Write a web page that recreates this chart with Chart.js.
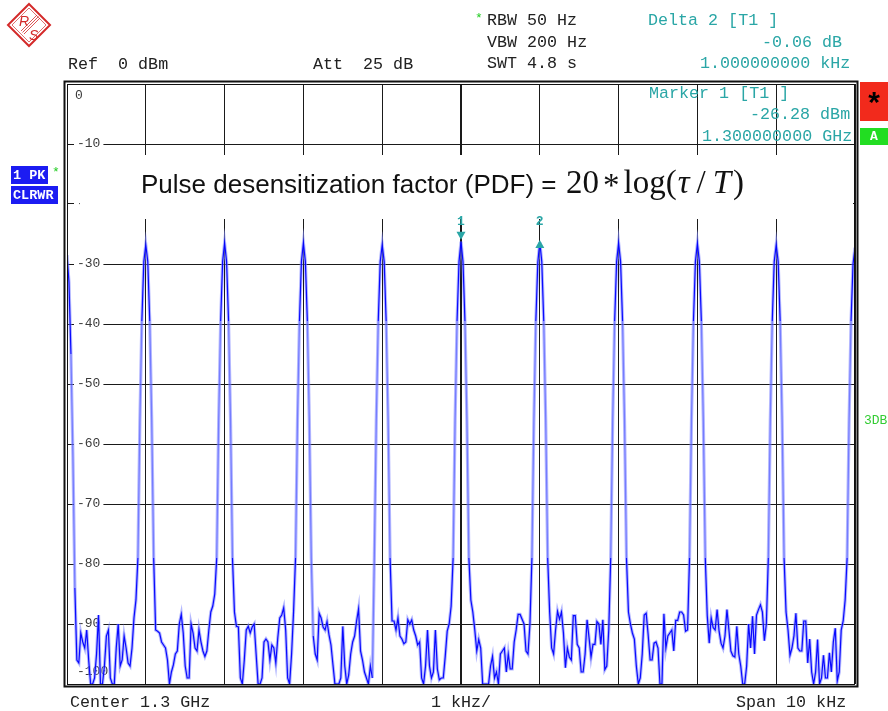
<!DOCTYPE html>
<html>
<head>
<meta charset="utf-8">
<style>
  html, body { margin: 0; padding: 0; background: #fff; overflow: hidden; }
  #wrap { position: relative; width: 888px; height: 711px; }
  canvas { display: block; }
  #logo { position: absolute; left: 0; top: 0; }
</style>
<script src="https://cdn.jsdelivr.net/npm/chart.js@4.4.1/dist/chart.umd.min.js"></script>
</head>
<body>
<div id="wrap">
  <canvas id="chart" width="888" height="711"></canvas>
  <svg id="logo" width="60" height="52" viewBox="0 0 60 52">
    <polygon points="29,4 50,25 29,46 8,25" fill="none" stroke="#d42a2a" stroke-width="2"/>
    <polygon points="29,8 46,25 29,42 12,25" fill="none" stroke="#e07070" stroke-width="1"/>
    <g stroke="#d42a2a" stroke-width="0.8">
      <line x1="21" y1="31" x2="37" y2="15"/><line x1="22.5" y1="32.5" x2="38.5" y2="16.5"/>
      <line x1="24" y1="34" x2="40" y2="18"/>
    </g>
    <text x="19" y="26" font-family="Liberation Sans, Arial" font-size="14" fill="#d42a2a" font-style="italic">R</text>
    <text x="29" y="40" font-family="Liberation Sans, Arial" font-size="14" fill="#d42a2a" font-style="italic">S</text>
  </svg>
</div>
<script>
// sweep: center 1.3 GHz, span 10 kHz, one trace point every 25 Hz
const startHz = -5000;
const stepHz = 25;

// trace level in dBm, one array per 1 kHz division (first value = comb line)
const div0 = [-28.5, -33, -45, -62, -84, -96, -96.5, -91.5, -93, -94, -91, -96, -100, -100, -99, -95, -88.5, -100, -100, -97,
              -92, -91, -99, -100, -100, -94, -90, -97, -96, -92, -94, -96.5, -97, -94, -89, -86, -79, -56, -39.5, -29.6];
const div1 = [-26.8, -29.6, -39.5, -56, -79, -91, -91.2, -91.5, -93, -93.5, -94, -96, -100, -98, -96.8, -95, -94.5, -90, -88.4, -91.5,
              -97, -99, -99, -90, -91.5, -94, -94.5, -91, -93, -94.5, -95.4, -94.5, -91, -88, -87, -85, -79, -56, -39.5, -29.6];
const div2 = [-26.5, -29.6, -39.5, -56, -79, -88, -90.4, -90.5, -99, -100, -96, -91, -90.4, -91.5, -90.5, -90, -95, -100, -100, -99,
              -93, -92.5, -93, -96, -93.5, -94, -96.5, -92.3, -89, -88.5, -87.3, -91, -99, -100, -95, -88, -79, -56, -39.5, -29.6];
const div3 = [-26.5, -29.6, -39.5, -56, -79, -92, -95, -96, -88.2, -89, -90.5, -91, -89.6, -91.8, -93.5, -96.8, -100, -100, -100, -99,
              -90.4, -97, -100, -98.5, -95, -93, -92, -89.5, -87.5, -94.5, -96, -98, -99, -100, -97, -99, -79, -56, -39.5, -29.6];
const div4 = [-26.8, -29.6, -39.5, -56, -79, -89.5, -89.5, -91, -89, -92, -92.5, -93.3, -93, -89.3, -90, -89.3, -91, -92, -93.5, -93,
              -99, -100, -97, -91, -97, -99, -98, -91, -97.5, -99.3, -99, -99, -95.4, -91.2, -90, -87, -79, -56, -39.5, -29.6];
const div5 = [-26.28, -29.6, -39.5, -56, -79, -86, -88, -91, -94.5, -92.6, -94, -100, -100, -100, -100, -97, -95.4, -99, -98, -100,
              -95, -94.5, -94, -98, -95, -97.5, -97.5, -93, -91, -88.4, -88.4, -89.2, -90, -94.5, -95, -90, -79, -56, -39.5, -29.7];
const div6 = [-26.34, -29.6, -39.5, -56, -79, -88, -94, -95, -91, -87.9, -89.2, -88, -91.5, -97.3, -94, -95.5, -96, -88.6, -88.6, -93.4,
              -94, -98, -98, -95, -89.3, -92.3, -95.5, -93.4, -93.4, -89.6, -90, -93.4, -89.3, -97.6, -97, -91, -79, -56, -39.5, -29.6];
const div7 = [-26.5, -29.6, -39.5, -56, -79, -88, -90, -91.5, -92.5, -97, -100, -99, -95, -88.5, -88.2, -91.8, -96, -96, -93.2, -93,
              -94, -100, -100, -88.3, -94, -92, -91.5, -91, -94.5, -89.4, -89.4, -88, -88, -88.5, -91.2, -91, -79, -56, -39.5, -29.6];
const div8 = [-26.6, -29.6, -39.5, -56, -79, -88.6, -93.2, -89, -90.6, -91, -87.6, -91.2, -93.2, -94, -92, -87.6, -91, -94.5, -95.3, -95.5,
              -90.4, -95, -97, -100, -100, -97, -90, -94, -88.7, -95, -88.5, -87.6, -86.8, -88, -92.8, -90, -79, -56, -39.5, -29.6];
const div9 = [-26.8, -29.6, -39.5, -56, -79, -88, -91, -95.2, -94, -92, -88.2, -94, -94.5, -94.5, -89.5, -89.5, -96.5, -92.5, -98, -100,
              -98, -92.6, -100, -99, -95.2, -99, -99, -94.8, -98, -93, -90.7, -99.5, -98, -91, -89.5, -86, -79, -56, -39.5, -30];
const lastLine = [-27.3];

const yTickValues = [0, -10, -20, -30, -40, -50, -60, -70, -80, -90, -100];
const yTickLabels = ['0', '-10', '-20', '-30', '-40', '-50', '-60', '-70', '-80', '-90', '-100'];

const markerNames = ['1', '2'];
const markerFreqs = [0, 1000];
const markerLevels = [-26.28, -26.34];

const trace = [].concat(div0, div1, div2, div3, div4, div5, div6, div7, div8, div9, lastLine);
const points = trace.map((v, i) => ({ x: startHz + i * stepHz, y: v }));

const mono = '"Liberation Mono", "DejaVu Sans Mono", monospace';
const teal = '#2aa6a6';
const ink = '#222';

function put(ctx, s, x, y, color, font) {
    ctx.font = font || ('16.7px ' + mono);
    ctx.fillStyle = color;
    ctx.textAlign = 'left';
    ctx.textBaseline = 'middle';
    ctx.fillText(s, x, y);
}

const yLabelPlugin = {
    id: 'yLabels',
    beforeDatasetsDraw(chart) {
        const ctx = chart.ctx, ys = chart.scales.y;
        ctx.save();
        ctx.font = '13px ' + mono;
        yTickValues.forEach((v, i) => {
            let py = ys.getPixelForValue(v);
            if (v === 0) py += 12;
            else if (v === -100) py -= 12;
            const s = yTickLabels[i];
            const w = ctx.measureText(s).width;
            const x = v === 0 ? 75 : 77;
            if (v !== 0 && v !== -100) {
                ctx.fillStyle = '#fff';
                ctx.fillRect(x - 3, py - 5, w + 6, 10);
            }
            put(ctx, s, x, py, '#3a3a3a', '13px ' + mono);
        });
        ctx.restore();
    }
};

const decorPlugin = {
    id: 'decor',
    afterDraw(chart) {
        const ctx = chart.ctx, a = chart.chartArea;
        const xs = chart.scales.x, ys = chart.scales.y;
        ctx.save();

        // frame (double line)
        ctx.strokeStyle = '#111';
        ctx.lineWidth = 2;
        ctx.strokeRect(a.left - 2.5, a.top - 2.5, a.right - a.left + 5, a.bottom - a.top + 5);
        ctx.lineWidth = 1;
        ctx.strokeRect(a.left + 0.5, a.top + 0.5, a.right - a.left - 1, a.bottom - a.top);

        // annotation box with the formula
        ctx.fillStyle = '#fff';
        ctx.fillRect(80, 155, 773, 64);
        ctx.fillStyle = '#111';
        ctx.textAlign = 'left';
        ctx.textBaseline = 'alphabetic';
        ctx.font = '26px "Liberation Sans", Arial, sans-serif';
        ctx.fillText('Pulse desensitization factor (PDF) =', 141, 193);
        const serif = '"Liberation Serif", "Times New Roman", serif';
        const parts = [['20', '', 0], ['*', '', 4], ['log(', '', 4], ['\u03C4', 'italic ', 1], ['/', '', 7], ['T', 'italic ', 7], [')', '', 2]];
        let fx = 566;
        parts.forEach(p => {
            fx += p[2];
            ctx.font = p[1] + '33px ' + serif;
            ctx.fillText(p[0], fx, p[0] === '*' ? 196 : 193);
            fx += ctx.measureText(p[0]).width;
        });

        // markers
        ctx.fillStyle = teal;
        markerNames.forEach((name, i) => {
            const px = xs.getPixelForValue(markerFreqs[i]);
            const py = ys.getPixelForValue(markerLevels[i]);
            ctx.beginPath();
            if (i === 0) {
                ctx.moveTo(px - 4.5, py - 10); ctx.lineTo(px + 4.5, py - 10); ctx.lineTo(px, py - 2);
            } else {
                ctx.moveTo(px - 4.5, py + 6); ctx.lineTo(px + 4.5, py + 6); ctx.lineTo(px, py - 2);
            }
            ctx.closePath();
            ctx.fill();
            put(ctx, name, px - 4, 222, teal, 'bold 13px ' + mono);
        });

        // header and footer texts
        put(ctx, 'Ref  0 dBm', 68, 65, ink);
        put(ctx, 'Att  25 dB', 313, 65, ink);
        put(ctx, '*', 475, 19, '#22cc22', '13px ' + mono);
        put(ctx, 'RBW 50 Hz', 487, 21, ink);
        put(ctx, 'VBW 200 Hz', 487, 43, ink);
        put(ctx, 'SWT 4.8 s', 487, 64, ink);
        put(ctx, 'Delta 2 [T1 ]', 648, 21, teal);
        put(ctx, '-0.06 dB', 762, 43, teal);
        put(ctx, '1.000000000 kHz', 700, 64, teal);
        put(ctx, 'Marker 1 [T1 ]', 649, 94, teal);
        put(ctx, '-26.28 dBm', 750, 115, teal);
        put(ctx, '1.300000000 GHz', 702, 137, teal);
        put(ctx, 'Center 1.3 GHz', 70, 703, ink);
        put(ctx, '1 kHz/', 431, 703, ink);
        put(ctx, 'Span 10 kHz', 736, 703, ink);

        // side indicators
        ctx.fillStyle = '#f22a1c';
        ctx.fillRect(860, 82, 28, 39);
        ctx.fillStyle = '#000';
        ctx.font = 'bold 30px "Liberation Sans", Arial, sans-serif';
        ctx.textAlign = 'center';
        ctx.textBaseline = 'middle';
        ctx.fillText('*', 874, 104);
        ctx.fillStyle = '#22dd22';
        ctx.fillRect(860, 128, 28, 17);
        ctx.fillStyle = '#fff';
        ctx.font = 'bold 13px ' + mono;
        ctx.fillText('A', 874, 137);

        ctx.fillStyle = '#1c1cf2';
        ctx.fillRect(11, 166, 37, 18);
        ctx.fillRect(11, 186, 47, 18);
        put(ctx, '1 PK', 13, 175.5, '#fff', 'bold 13.5px ' + mono);
        put(ctx, 'CLRWR', 13, 195.5, '#fff', 'bold 13.5px ' + mono);
        put(ctx, '*', 52, 173, '#22cc22', '13px ' + mono);
        put(ctx, '3DB', 864, 421, '#33cc33', '13px ' + mono);

        ctx.restore();
    }
};

const gridWidth = c => (c.tick && c.tick.value === 0 ? 2 : 1);
// steep flanks of the comb lines look washed out on the analyzer plot
const coreColor = c => (Math.abs(c.p1.parsed.y - c.p0.parsed.y) > 12 ? 'rgba(40,50,255,0.45)' : 'rgba(0,0,255,0.95)');

new Chart(document.getElementById('chart'), {
    type: 'line',
    data: {
        datasets: [
            // dataset 0 is painted last, so the dark core sits on top of the soft halo
            { data: points, borderColor: 'rgba(0,0,255,0.95)', borderWidth: 1.2, pointRadius: 0, tension: 0,
              segment: { borderColor: coreColor } },
            { data: points, borderColor: 'rgba(130,136,255,0.6)', borderWidth: 3.2, pointRadius: 0, tension: 0 }
        ]
    },
    options: {
        responsive: false,
        animation: false,
        events: [],
        layout: { padding: { left: 67, right: 33, top: 84, bottom: 27 } },
        plugins: { legend: { display: false }, tooltip: { enabled: false } },
        scales: {
            x: {
                type: 'linear', min: -5000, max: 5000,
                ticks: { stepSize: 1000, display: false },
                grid: { color: '#1a1a1a', lineWidth: gridWidth, drawTicks: false },
                border: { display: false }
            },
            y: {
                min: -100, max: 0,
                ticks: { stepSize: 10, display: false },
                grid: { color: '#1a1a1a', lineWidth: 1, drawTicks: false },
                border: { display: false }
            }
        }
    },
    plugins: [yLabelPlugin, decorPlugin]
});
</script>
</body>
</html>
